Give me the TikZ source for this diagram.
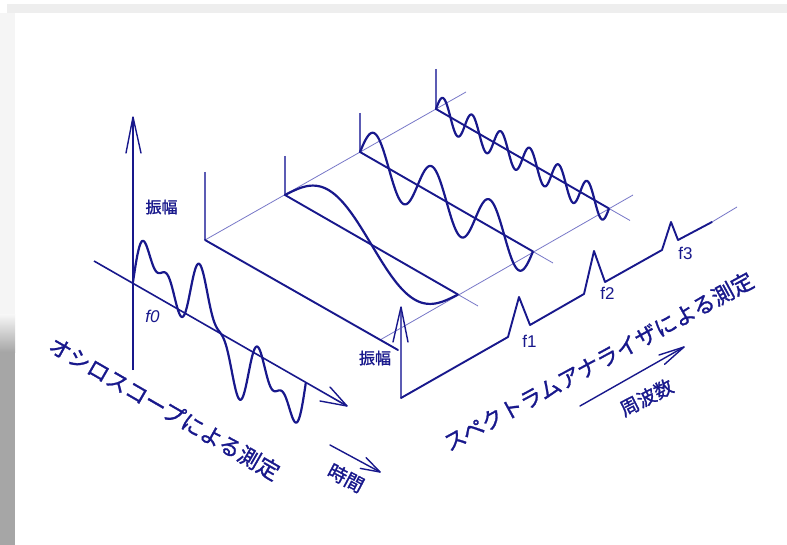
\documentclass[tikz,border=0pt]{standalone}
\usepackage{fontspec}
\setmainfont{Liberation Sans}
\newfontfamily\jpfont[FakeBold=1.2]{Noto Sans CJK JP}
\definecolor{inkblue}{RGB}{24,24,140}
\definecolor{postblue}{RGB}{92,92,180}
\definecolor{thinblue}{RGB}{120,120,200}
\definecolor{bandgray}{RGB}{238,238,238}
\definecolor{darkband}{RGB}{166,166,166}
\tikzset{
  heavy/.style={draw=inkblue, line width=1.9pt, line join=round, line cap=round},
  wave/.style={draw=inkblue, line width=2.2pt, line join=round, line cap=round},
  thinln/.style={draw=thinblue, line width=0.8pt},
  post/.style={draw=postblue, line width=2.4pt},
  barb/.style={draw=inkblue, line width=1.4pt, line cap=round, line join=round},
  jpbig/.style={text=inkblue, font=\jpfont\fontsize{22}{22}\selectfont, inner sep=0pt},
  jpmid/.style={text=inkblue, font=\jpfont\fontsize{19}{19}\selectfont, inner sep=0pt},
  jpamp/.style={text=inkblue, font=\jpfont\fontsize{16}{16}\selectfont, inner sep=0pt},
  flabel/.style={text=inkblue, font=\fontsize{17}{17}\selectfont, inner sep=0pt}
}
\begin{document}
\begin{tikzpicture}[x=1pt,y=-1pt]
\useasboundingbox (0,0) rectangle (787,545);
% background / screenshot frame
\fill[white] (0,0) rectangle (787,545);
\fill[bandgray] (7,4) rectangle (787,13);
\fill[gray!8] (0,13) rectangle (15,315);
\shade[top color=gray!8, bottom color=darkband] (0,315) rectangle (15,352);
\fill[darkband] (0,352) rectangle (15,545);

% ---------- back frame ----------
\coordinate (c0) at (205,240);
\coordinate (b1) at (285,195);
\coordinate (b2) at (360,152);
\coordinate (b3) at (436,109);
\coordinate (bend) at (466,92);
\draw[thinln] (c0) -- (bend);
\draw[post] (205,172) -- (c0);
\draw[post] (285,156) -- (b1);
\draw[post] (360,113) -- (b2);
\draw[post] (436,69) -- (b3);

% front thin frequency line
\coordinate (fl0) at (380,340);
\coordinate (fl1) at (633,195);
\draw[thinln] (fl0) -- (fl1);

% front-left edge
\coordinate (edgeEnd) at (398,350);
\draw[heavy] (c0) -- (edgeEnd);

% time lines of the three components
\coordinate (e1) at (458,294.5);
\coordinate (e2) at (533,251.5);
\coordinate (e3) at (609,208.5);
\draw[heavy] (b1) -- (e1);
\draw[heavy] (b2) -- (e2);
\draw[heavy] (b3) -- (e3);
\draw[thinln] (e1) -- (478,306);
\draw[thinln] (e2) -- (553,263);
\draw[thinln] (e3) -- (630,220.5);

% component waves
\draw[wave] plot[domain=0:1, samples=120, smooth] ({285+173*\x},{195+99.5*\x-30*sin(360*\x)});
\draw[wave] plot[domain=0:1, samples=200, smooth] ({360+173*\x},{152+99.5*\x-27*sin(1080*\x)});
\draw[wave] plot[domain=0:1, samples=300, smooth] ({436+173*\x},{109+99.5*\x-15*sin(2160*\x)});

% ---------- spectrum ----------
\coordinate (s0) at (401,398);
\coordinate (sEnd) at (712,222);
\draw[post] (s0) -- (401,309);
\coordinate (sTip) at (401,307);
\draw[barb] (393,342) -- (sTip) -- (408,342);
\draw[heavy] (s0) -- (508,337) -- (519,297) -- (530,325) -- (584,294) -- (594,251)
  -- (605,282) -- (662,250) -- (671,222) -- (678,240) -- (sEnd);
\draw[thinln] (sEnd) -- (737,207);
\node[jpamp] (amp2) at (375,358) {振幅};
\node[flabel] (f1) at (529.5,341.5) {f1};
\node[flabel] (f2) at (607.5,293.5) {f2};
\node[flabel] (f3) at (685.5,253.5) {f3};

% ---------- oscilloscope ----------
\coordinate (vBot) at (133,370);
\coordinate (vTip) at (133,117);
\draw[draw=inkblue, line width=1.5pt] (vBot) -- (vTip);
\draw[barb] (126,153) -- (vTip) -- (141,153);
\coordinate (tStart) at (94,261);
\coordinate (tTip) at (347,406);
\draw[draw=inkblue, line width=1.6pt] (tStart) -- (tTip);
\draw[barb] (320,401) -- (tTip) -- (330,387);
\draw[wave] plot[domain=0:1, samples=400, smooth]
  ({133+173*\x},{282+99.5*\x-30*sin(360*\x)-27*sin(1080*\x)-15*sin(2160*\x)});
\node[jpamp] (amp1) at (161.5,207) {振幅};
\node[flabel, font=\itshape\fontsize{17}{17}\selectfont] (f0) at (152.5,316.5) {f0};

% time arrow
\coordinate (taStart) at (330,445);
\coordinate (taTip) at (380,472);
\draw[barb] (taStart) -- (taTip);
\draw[barb] (366,457.5) -- (taTip) -- (360.3,468.4);
\node[jpmid, rotate=-28] (timeLbl) at (346,478) {時間};

% frequency arrow
\coordinate (faStart) at (580,406);
\coordinate (faTip) at (684,347);
\draw[barb] (faStart) -- (faTip);
\draw[barb] (659,355) -- (faTip) -- (664.6,364.3);
\node[jpmid, rotate=27] (freqLbl) at (646.5,397.5) {周波数};

% captions
\node[jpbig, rotate=-30] (oscLbl) at (164.5,408.5) {オシロスコープによる測定};
\node[jpbig, rotate=28.5] (specLbl) at (598.5,361.5) {スペクトラムアナライザによる測定};
\end{tikzpicture}
\end{document}
